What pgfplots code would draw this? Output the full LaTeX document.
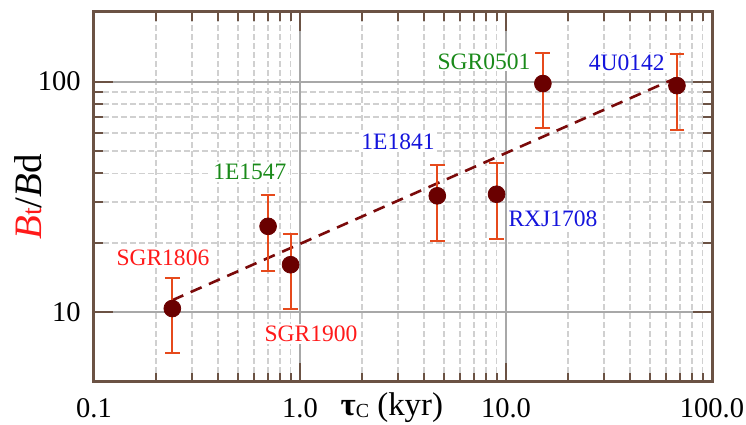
\documentclass[border=0pt]{standalone}
\usepackage{fontspec}
\setmainfont{Liberation Serif}
\usepackage{pgfplots}
\pgfplotsset{compat=1.18}

\definecolor{framebrown}{HTML}{6B5244}
\definecolor{ptmaroon}{HTML}{6A0000}
\definecolor{linemaroon}{HTML}{7A0A0A}
\definecolor{errorange}{HTML}{E64A1C}
\definecolor{lblred}{HTML}{FF1A1A}
\definecolor{lblgreen}{HTML}{1A8A1A}
\definecolor{lblblue}{HTML}{1414DC}
\definecolor{gridmajor}{HTML}{A8A8A8}
\definecolor{gridminor}{HTML}{D0D0D0}

\begin{document}
\begin{tikzpicture}
  \begin{axis}[
    scale only axis, width=309bp, height=185bp,
    xmode=log, ymode=log,
    xmin=0.1, xmax=100, ymin=5, ymax=200,
    xtick={0.1,1,10,100}, xticklabels={0.1,1.0,10.0,100.0},
    ytick={10,100}, yticklabels={10,100},
    /pgf/number format/assume math mode=true,
    tick label style={font=\fontsize{14.3}{16}\selectfont},
    xticklabel style={inner sep=0pt, yshift=-8bp},
    yticklabel style={inner sep=0pt, xshift=-6.5bp},
    axis line style={framebrown, line width=1.5bp},
    tick align=inside,
    major tick length=9.5bp, minor tick length=4.5bp,
    tick style={framebrown, line width=1bp},
    grid=both,
    major grid style={gridmajor, line width=1bp},
    minor grid style={gridminor, line width=0.9bp, dash pattern=on 3bp off 1.5bp},
    xlabel={\textbf{τ}\raisebox{-1bp}{\fontsize{10}{12}\selectfont C} (kyr)},
    xlabel style={at={(axis description cs:0.482,0)}, anchor=north,
      inner sep=0pt, yshift=-5bp, font=\fontsize{16.5}{18}\selectfont},
    ylabel={\textcolor{lblred}{\textit{B}{\fontsize{14}{16}\selectfont t}}/\textit{B}d},
    ylabel style={at={(axis description cs:-0.107,0.5)}, anchor=center,
      inner sep=0pt, font=\fontsize{19.5}{22}\selectfont},
  ]
    % fitted trend
    \addplot[linemaroon, line width=1.3bp, dash pattern=on 6bp off 4bp] coordinates {
      (0.24,11.3) (66,103)
    };
    % magnetars with error bars
    \addplot[only marks, mark=*, mark size=4.2bp,
      mark options={fill=ptmaroon, draw=ptmaroon},
      error bars/.cd, y dir=both, y explicit,
      error bar style={errorange, line width=1bp},
      error mark options={rotate=90, mark size=3.7bp, line width=1bp, errorange},
    ] coordinates {
      (0.24,10.4) +=(0,3.7) -=(0,3.7)
      (0.70,23.6) +=(0,8.7) -=(0,8.5)
      (0.90,16.1) +=(0,5.8) -=(0,5.7)
      (4.64,32.0) +=(0,11.3) -=(0,11.6)
      (9.0,32.5) +=(0,11.9) -=(0,11.7)
      (15.1,98) +=(0,35.5) -=(0,34.8)
      (67.6,96) +=(0,36) -=(0,34.2)
    };
    \begin{scope}[every node/.style={fill=white, inner sep=1bp,
        font=\fontsize{11.8}{13}\selectfont}]
      \node[text=lblred] at (axis cs:0.216,17.3) {SGR1806};
      \node[text=lblgreen] at (axis cs:0.571,40.7) {1E1547};
      \node[text=lblred] at (axis cs:1.13,8.09) {SGR1900};
      \node[text=lblblue] at (axis cs:2.99,54.8) {1E1841};
      \node[text=lblblue] at (axis cs:16.9,25.4) {RXJ1708};
      \node[text=lblgreen] at (axis cs:7.82,122) {SGR0501};
      \node[text=lblblue] at (axis cs:38.6,120) {4U0142};
    \end{scope}
  \end{axis}
  \pgfresetboundingbox
  \path[use as bounding box] ([shift={(-47bp,-21.5bp)}]current axis.south west)
    rectangle ([shift={(17bp,6bp)}]current axis.north east);
\end{tikzpicture}
\end{document}
